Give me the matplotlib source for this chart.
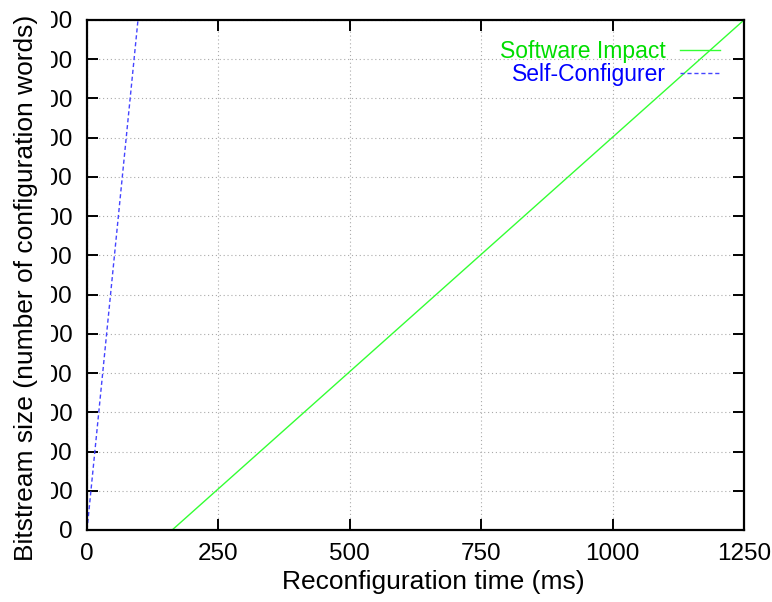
import matplotlib.pyplot as plt
from matplotlib.transforms import Bbox, TransformedBbox

plt.rcParams['font.family'] = ['Liberation Sans', 'DejaVu Sans']

# Data
sw_time = [162, 1250]          # Software Impact, ms
sw_size = [0, 1300]
sc_time = [0, 97]              # Self-Configurer, ms
sc_size = [0, 1300]

x_ticks = [0, 250, 500, 750, 1000, 1250]
y_ticks = [0, 100, 200, 300, 400, 500, 600, 700, 800, 900, 1000, 1100, 1200, 1300]

fig = plt.figure(figsize=(7.72, 6.02), dpi=100)
ax = fig.add_axes([87/772, 1 - 530/602, (744-87)/772, (530-20)/602])

ax.plot(sw_time, sw_size, color='#33ff33', lw=1.0, label='Software Impact')
ax.plot(sc_time, sc_size, color='#4444ff', lw=1.0, dashes=(3, 2), label='Self-Configurer')

ax.set_xlim(0, 1250)
ax.set_ylim(0, 1300)
ax.set_xticks(x_ticks)
ax.set_yticks(y_ticks)
ax.grid(True, linestyle=(0, (1, 2.5)), color='#aaaaaa', lw=0.8)
ax.set_axisbelow(True)

for s in ax.spines.values():
    s.set_linewidth(1.6)
ax.tick_params(direction='in', top=True, right=True, length=8, width=1.4,
               labelsize=17.5, colors='black')
ax.tick_params(axis='y', pad=10.5)
ax.tick_params(axis='x', pad=9)

ax.set_xlabel('Reconfiguration time (ms)', fontsize=19)
ax.xaxis.set_label_coords((433-87)/(744-87), -(570-530)/(530-20))
ax.set_ylabel('Bitstream size (number of configuration words)', fontsize=19)
ax.yaxis.set_label_coords(-(87-38)/(744-87), (530-288)/(530-20))

leg = ax.legend(loc='upper right', frameon=False, markerfirst=False, fontsize=16.5,
                handlelength=1.75, handletextpad=0.6, labelspacing=0.0,
                borderaxespad=0.3, bbox_to_anchor=(1 - 8/657, 1 - 4/510))
leg.get_texts()[0].set_color('#00dd00')
leg.get_texts()[1].set_color('#0000ff')

# y tick labels are cut off on the left in the reference
fig.canvas.draw()
clip = TransformedBbox(Bbox.from_extents(51/772, 0, 1, 1), fig.transFigure)
for t in ax.yaxis.get_major_ticks():
    t.label1.set_clip_on(True)
    t.label1.set_clip_box(clip)

fig.savefig('out.png', dpi=100)
